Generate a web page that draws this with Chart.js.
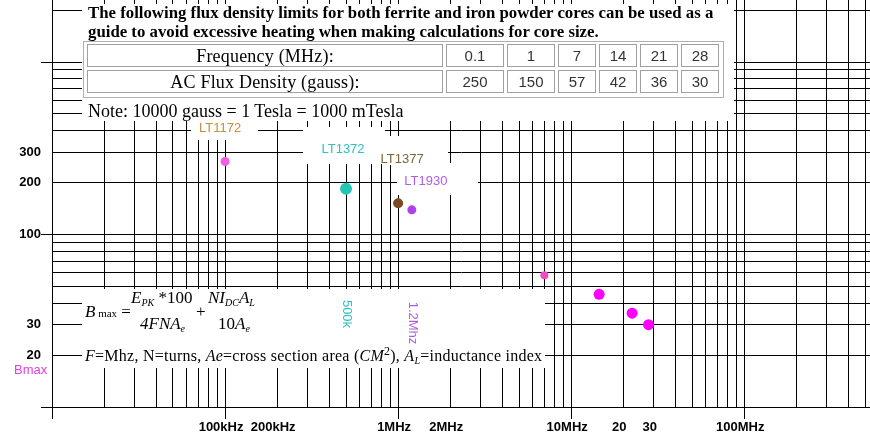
<!DOCTYPE html>
<html>
<head>
<meta charset="utf-8">
<title>Bmax vs frequency</title>
<script src="https://cdn.jsdelivr.net/npm/chart.js@4.4.1/dist/chart.umd.min.js"></script>
<style>
  body { margin: 0; background: #fff; }
  #wrap { position: relative; width: 870px; height: 437px; overflow: hidden; }
  .ov { position: absolute; white-space: nowrap; color: #000; font-family: "Liberation Serif", "Times New Roman", serif; }
  .cell { position: absolute; box-sizing: border-box; border: 1px solid #a0a0a0; text-align: center; line-height: 22px; }
  .num { font-family: "Liberation Sans", Arial, sans-serif; font-size: 15px; color: #333; }
  .it { font-style: italic; }
  .sb { font-size: 10px; font-style: italic; position: relative; top: 3px; }
</style>
</head>
<body>
<div id="wrap">
  <canvas id="myChart" width="870" height="437"></canvas>

  <div class="ov" style="left:88px; top:3px; font-size:16.8px; font-weight:bold; line-height:19px;">
    The following flux density limits for both ferrite and iron powder cores can be used as a<br>
    guide to avoid excessive heating when making calculations for core size.
  </div>
  <div id="table" class="ov" style="left:0; top:0;"></div>
  <div class="ov" style="left:88px; top:100px; font-size:18px; line-height:22px;">Note: 10000 gauss = 1 Tesla = 1000 mTesla</div>

  <!-- formula box -->
  <div class="ov" style="left:85px; top:302px; font-size:17px;"><span class="it">B</span><span style="font-size:11px;"> max</span> =</div>
  <div class="ov" style="left:131px; top:288px; font-size:17px;"><span class="it">E</span><span class="sb">PK</span> *100</div>
  <div class="ov" style="left:140px; top:314px; font-size:17px;" ><span class="it">4FNA</span><span class="sb">e</span></div>
  <div class="ov" style="left:196px; top:302px; font-size:17px;">+</div>
  <div class="ov" style="left:208px; top:288px; font-size:17px;"><span class="it">NI</span><span class="sb">DC</span><span class="it">A</span><span class="sb">L</span></div>
  <div class="ov" style="left:218px; top:314px; font-size:17px;">10<span class="it">A</span><span class="sb">e</span></div>
  <div class="ov" style="left:85px; top:344px; font-size:16px; letter-spacing:0.25px;"><span class="it">F</span>=Mhz, N=turns, <span class="it">Ae</span>=cross section area (<span class="it">CM</span><sup style="font-size:12px;">2</sup>), <span class="it">A</span><span class="sb">L</span>=inductance index</div>
</div>

<script>
// parts marked on the chart (frequency in MHz, Bmax in gauss)
const partNames = ['LT1172', 'LT1372', 'LT1377', 'LT1930'];
const partFreq = [0.1, 0.5, 1, 1.2];
const partBmax = [265, 184, 152, 139];
const partFreqNotes = ['', '500k', '', '1.2Mhz'];

// flux density limit points
const limitFreq = [7, 14.5, 22.5, 28];
const limitBmax = [58, 45, 35, 30];

// table at the top
const tableFreq = ['0.1', '1', '7', '14', '21', '28'];
const tableFlux = ['250', '150', '57', '42', '36', '30'];

// axis labels
const xLabelValues = [0.1, 0.2, 1, 2, 10, 20, 30, 100];
const xLabelTexts = ['100kHz', '200kHz', '1MHz', '2MHz', '10MHz', '20', '30', '100MHz'];
const yLabelValues = [300, 200, 100, 30, 20];
const yLabelTexts = ['300', '200', '100', '30', '20'];

// styles
const partColors = ['#f35fe4', '#22c6b6', '#7a4a24', '#b040ee'];
const partRadius = [4.5, 6, 5, 4.5];
const partLabelColors = ['#c0913c', '#2fc0c0', '#7d6438', '#b05ee0'];
const partLabelOffset = [[-5, -33], [-3, -39], [4, -44], [14, -28]];
const noteY = [0, 314, 0, 323];
const limitColors = ['#f24ac4', '#ff00ff', '#ff00ff', '#ff00ff'];
const limitRadius = [4, 5.5, 5.5, 5.5];

// white boxes that hide the grid behind the text
const whiteBoxes = [
    [82, 4, 652, 117],   // table
    [191, 121, 67, 19],  // LT1172
    [303, 127, 82, 37],  // LT1372
    [385, 136, 63, 29],  // LT1377
    [397, 163, 81, 32],  // LT1930
    [82, 289, 463, 79]   // formula
];

document.addEventListener("DOMContentLoaded", myLoadEvent);

function logGrid(from, to) {
    const out = [];
    for (let d = from; d <= to; d *= 10) {
        for (let k = 1; k <= 9; k++) {
            const v = Number((k * d).toPrecision(6));
            if (v <= to * 5.3) out.push(v);
        }
    }
    return out;
}

function isDecade(v) {
    const l = Math.log10(v);
    return Math.abs(l - Math.round(l)) < 1e-9;
}

function findLabel(v, values, texts) {
    for (let i = 0; i < values.length; i++) {
        if (Math.abs(v - values[i]) / values[i] < 1e-6) return texts[i];
    }
    return '';
}

function buildTable() {
    const t = document.getElementById('table');
    const cols = [[87, 356], [446, 58], [507, 48], [558, 38], [599, 38], [640, 38], [681, 38]];
    let html = '<div class="cell" style="left:83px;top:41px;width:641px;height:57px;border-color:#b0b0b0;"></div>';
    const rows = [['Frequency (MHz):'].concat(tableFreq), ['AC Flux Density (gauss):'].concat(tableFlux)];
    rows.forEach((row, r) => {
        const top = 44 + r * 26;
        row.forEach((txt, c) => {
            const cls = c === 0 ? 'cell' : 'cell num';
            const fs = c === 0 ? 'font-size:18px;letter-spacing:0.2px;' : '';
            html += '<div class="' + cls + '" style="' + fs + 'left:' + cols[c][0] + 'px;top:' + top + 'px;width:' + cols[c][1] + 'px;height:23px;">' + txt + '</div>';
        });
    });
    t.innerHTML = html;
}

const whiteout = {
    id: 'whiteout',
    beforeDatasetsDraw(chart) {
        const c = chart.ctx;
        c.save();
        c.fillStyle = '#fff';
        whiteBoxes.forEach(b => c.fillRect(b[0], b[1], b[2], b[3]));
        c.restore();
    }
};

const partLabels = {
    id: 'partLabels',
    afterDatasetsDraw(chart) {
        const c = chart.ctx;
        const xs = chart.scales.x, ys = chart.scales.y;
        c.save();
        c.font = '13px "Liberation Sans", Arial, sans-serif';
        c.textAlign = 'center';
        c.textBaseline = 'middle';
        partNames.forEach((name, i) => {
            const px = xs.getPixelForValue(partFreq[i]);
            const py = ys.getPixelForValue(partBmax[i]);
            c.fillStyle = partLabelColors[i];
            c.fillText(name, px + partLabelOffset[i][0], py + partLabelOffset[i][1]);
            if (partFreqNotes[i]) {
                c.save();
                c.translate(px + 1, noteY[i]);
                c.rotate(Math.PI / 2);
                c.fillText(partFreqNotes[i], 0, 0);
                c.restore();
            }
        });
        // y axis name
        c.fillStyle = '#e040e0';
        c.textAlign = 'left';
        c.fillText('Bmax', 14, 370);
        c.restore();
    }
};

function myLoadEvent() {
    buildTable();
    const ctx = document.getElementById('myChart');
    const xGrid = logGrid(0.01, 100);
    const yGrid = logGrid(10, 1000).filter(v => v <= 2000);
    const tickFont = { family: '"Liberation Sans", Arial, sans-serif', size: 13, weight: 'bold' };

    new Chart(ctx, {
        type: 'scatter',
        data: {
            datasets: [{
                label: 'parts',
                data: partFreq.map((f, i) => ({ x: f, y: partBmax[i] })),
                pointBackgroundColor: partColors,
                pointBorderWidth: 0,
                pointRadius: partRadius
            }, {
                label: 'limits',
                data: limitFreq.map((f, i) => ({ x: f, y: limitBmax[i] })),
                pointBackgroundColor: limitColors,
                pointBorderWidth: 0,
                pointRadius: limitRadius
            }]
        },
        options: {
            responsive: false,
            animation: false,
            layout: { padding: 0, autoPadding: false },
            plugins: {
                legend: { display: false },
                tooltip: { enabled: false }
            },
            scales: {
                x: {
                    type: 'logarithmic',
                    min: 0.01,
                    max: 533,
                    afterBuildTicks: s => { s.ticks = xGrid.map(v => ({ value: v })); },
                    afterFit: s => { s.height = 30; s.paddingLeft = 0; s.paddingRight = 0; },
                    border: { color: '#000', width: 1 },
                    grid: {
                        color: '#000',
                        lineWidth: 1,
                        tickLength: 12,
                        tickColor: c => (c.tick && isDecade(c.tick.value)) ? '#000' : 'rgba(0,0,0,0)'
                    },
                    ticks: {
                        autoSkip: false,
                        maxRotation: 0,
                        minRotation: 0,
                        padding: 1,
                        labelOffset: -4,
                        color: '#000',
                        font: tickFont,
                        callback: v => findLabel(v, xLabelValues, xLabelTexts)
                    }
                },
                y: {
                    type: 'logarithmic',
                    min: 10,
                    max: 2290,
                    afterBuildTicks: s => { s.ticks = yGrid.map(v => ({ value: v })); },
                    afterFit: s => { s.width = 52; s.paddingTop = 0; s.paddingBottom = 0; },
                    border: { color: '#000', width: 1 },
                    grid: {
                        color: '#000',
                        lineWidth: 1,
                        tickLength: 11,
                        tickColor: c => (c.tick && isDecade(c.tick.value)) ? '#000' : 'rgba(0,0,0,0)'
                    },
                    ticks: {
                        autoSkip: false,
                        padding: 0,
                        color: '#000',
                        font: tickFont,
                        callback: v => findLabel(v, yLabelValues, yLabelTexts)
                    }
                }
            }
        },
        plugins: [whiteout, partLabels]
    });
}
</script>
</body>
</html>
